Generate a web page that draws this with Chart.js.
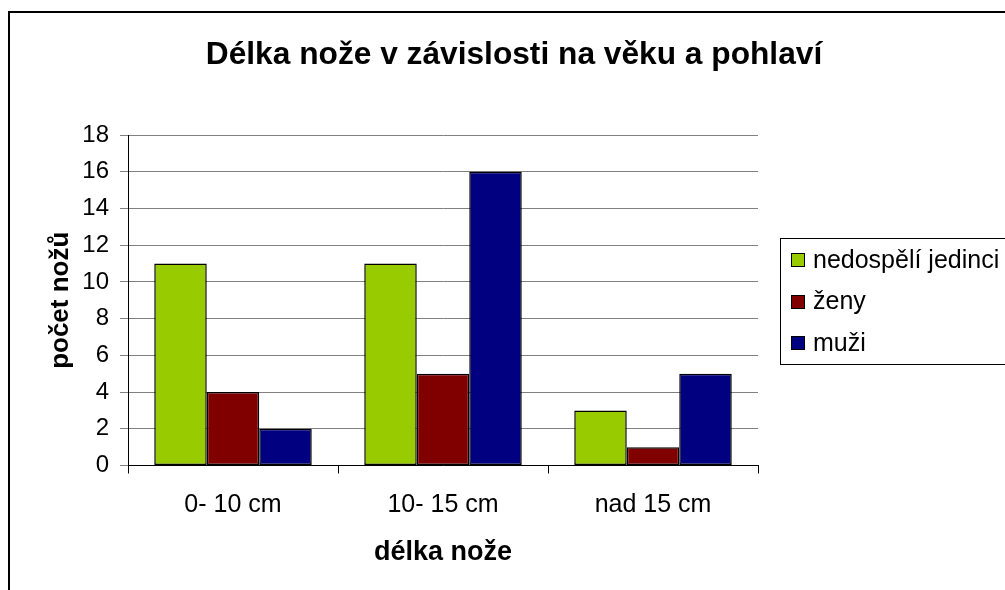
<!DOCTYPE html>
<html><head><meta charset="utf-8">
<script src="https://cdn.jsdelivr.net/npm/chart.js@4/dist/chart.umd.min.js"></script>
<style>html,body{margin:0;padding:0;background:#fff}#wrap{width:1005px;height:590px}</style>
</head><body><div id="wrap"><canvas id="c" width="1005" height="590"></canvas></div>
<script>
const categories = ["0- 10 cm", "10- 15 cm", "nad 15 cm"];
const seriesNames = ["nedospělí jedinci", "ženy", "muži"];
const juveniles = [11, 11, 3];
const women = [4, 5, 1];
const men = [2, 16, 5];
const colors = ["#99CC00", "#800000", "#000080"];
const yTicks = [0, 2, 4, 6, 8, 10, 12, 14, 16, 18];
const titleText = 'Délka nože v závislosti na věku a pohlaví';
const FONT = "Arial, 'Liberation Sans', sans-serif";

const frame = {
  id: 'frame',
  beforeDraw(chart) {
    const ctx = chart.ctx;
    ctx.save();
    ctx.fillStyle = '#fff';
    ctx.fillRect(0, 0, chart.width, chart.height);
    ctx.strokeStyle = '#000';
    ctx.lineWidth = 2;
    ctx.strokeRect(9, 12, 1010, 600);
    ctx.fillStyle = '#000';
    ctx.font = 'bold 31.7px ' + FONT;
    ctx.textAlign = 'center';
    ctx.textBaseline = 'alphabetic';
    ctx.fillText(titleText, 514, 64);
    ctx.restore();
  },
  afterDraw(chart) {
    const ctx = chart.ctx;
    ctx.save();
    const lx = 780.5, ly = 238.5, lw = 240, lh = 126;
    ctx.strokeStyle = '#000';
    ctx.lineWidth = 1;
    ctx.fillStyle = '#fff';
    ctx.fillRect(lx, ly, lw, lh);
    ctx.strokeRect(lx, ly, lw, lh);
    ctx.font = '25px ' + FONT;
    ctx.textBaseline = 'middle';
    ctx.textAlign = 'left';
    chart.data.datasets.forEach((ds, i) => {
      const cy = 260 + i * 41.5;
      ctx.fillStyle = ds.backgroundColor;
      ctx.fillRect(791.5, Math.round(cy) - 6.5, 13, 13);
      ctx.strokeRect(791.5, Math.round(cy) - 6.5, 13, 13);
      ctx.fillStyle = '#000';
      ctx.fillText(ds.label, 813, cy + 1);
    });
    ctx.restore();
  }
};

new Chart(document.getElementById('c'), {
  type: 'bar',
  data: {
    labels: categories,
    datasets: [
      { label: seriesNames[0], data: juveniles, backgroundColor: colors[0] },
      { label: seriesNames[1], data: women, backgroundColor: colors[1] },
      { label: seriesNames[2], data: men, backgroundColor: colors[2] }
    ].map(d => Object.assign(d, { borderColor: '#000', borderWidth: 1.5, borderSkipped: false, categoryPercentage: 0.75, barPercentage: 1 }))
  },
  plugins: [frame],
  options: {
    responsive: false,
    animation: false,
    devicePixelRatio: 1,
    layout: { padding: { left: 20, top: 135, right: 247, bottom: 10 } },
    plugins: {
      legend: { display: false },
      tooltip: { enabled: false },
      title: { display: false }
    },
    scales: {
      x: {
        afterFit(s) { s.height = 114.5; },
        grid: { display: true, drawOnChartArea: false, drawTicks: true, tickLength: 8, color: '#000', offset: true },
        border: { color: '#000', width: 1 },
        ticks: { color: '#000', font: { family: FONT, size: 25 }, padding: 17 },
        title: { display: true, text: 'délka nože', color: '#000', font: { family: FONT, size: 27, weight: 'bold' }, padding: { top: 0, bottom: 11 } }
      },
      y: {
        min: 0, max: 18,
        afterFit(s) { s.width = 108; },
        afterBuildTicks(s) { s.ticks = yTicks.map(v => ({ value: v })); },
        grid: { color: '#808080', tickLength: 8 },
        border: { color: '#000', width: 1 },
        ticks: { color: '#000', font: { family: FONT, size: 24 }, padding: 11 },
        title: { display: true, text: 'počet nožů', color: '#000', font: { family: FONT, size: 26, weight: 'bold' }, padding: { top: 25, bottom: 0 } }
      }
    }
  }
});
</script>
</body></html>
